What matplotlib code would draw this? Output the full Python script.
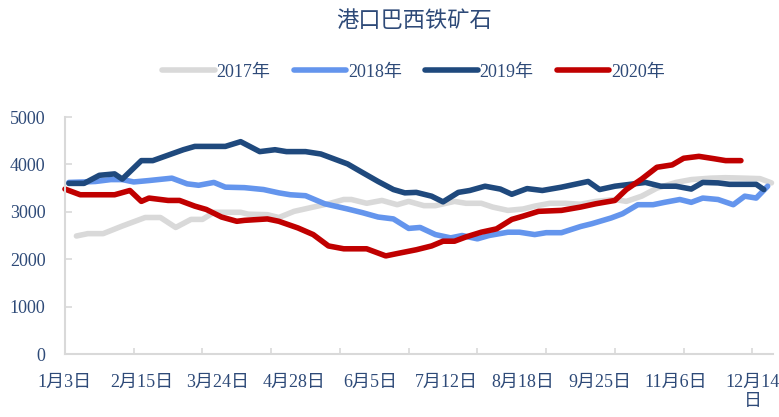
import matplotlib
matplotlib.use('Agg')
import matplotlib.pyplot as plt

plt.rcParams['font.family'] = ['Liberation Serif', 'Noto Sans CJK SC']

# x positions are in the chart's category grid (label every 20, tick every 18)
x_2017 = [3, 6, 10, 15, 21, 25, 29, 33, 36, 39, 46, 48, 53, 56, 60, 65, 69, 73, 75, 79,
          83, 87, 90, 94, 97, 102, 105, 109, 112, 116, 120, 123, 127, 131, 135, 139, 144,
          147, 151, 155, 160, 164, 169, 173, 178, 182, 185]
y_2017 = [2490, 2540, 2540, 2700, 2880, 2880, 2670, 2840, 2840, 2990, 2990, 2950, 2940,
          2880, 3010, 3100, 3170, 3260, 3260, 3180, 3240, 3150, 3220, 3130, 3130, 3220,
          3180, 3180, 3100, 3030, 3060, 3120, 3180, 3180, 3160, 3220, 3260, 3220, 3330,
          3500, 3620, 3680, 3710, 3720, 3710, 3700, 3610]

x_2018 = [1, 5, 8, 12, 15, 18, 22, 28, 32, 35, 39, 42, 47, 52, 56, 59, 63, 68, 74, 78,
          82, 86, 90, 93, 97, 101, 104, 108, 111, 116, 119, 123, 126, 130, 135, 138, 143,
          146, 150, 154, 157, 161, 164, 167, 171, 175, 178, 181, 184]
y_2018 = [3620, 3630, 3640, 3680, 3680, 3630, 3660, 3710, 3590, 3560, 3620, 3520, 3510,
          3470, 3400, 3360, 3340, 3170, 3060, 2980, 2890, 2850, 2650, 2670, 2520, 2450,
          2500, 2430, 2500, 2570, 2570, 2520, 2560, 2560, 2690, 2750, 2870, 2960, 3150,
          3150, 3200, 3260, 3200, 3290, 3260, 3150, 3330, 3290, 3540]

x_2019 = [1, 5, 9, 13, 15, 20, 23, 31, 34, 42, 46, 51, 55, 58, 63, 67, 70, 74, 77, 82,
          86, 89, 92, 96, 99, 103, 106, 110, 114, 117, 121, 125, 130, 137, 140, 144, 149,
          152, 156, 160, 164, 167, 171, 174, 181, 183]
y_2019 = [3600, 3600, 3770, 3800, 3690, 4080, 4080, 4310, 4380, 4380, 4480, 4270, 4310,
          4270, 4270, 4220, 4130, 4010, 3870, 3640, 3470, 3400, 3410, 3330, 3210, 3410,
          3450, 3540, 3480, 3370, 3490, 3450, 3520, 3640, 3470, 3540, 3590, 3620, 3540,
          3540, 3480, 3620, 3610, 3580, 3580, 3470]

x_2020 = [0, 4, 13, 17, 20, 22, 27, 30, 34, 37, 41, 45, 47, 53, 56, 61, 65, 69, 73, 79,
          84, 87, 92, 96, 99, 102, 105, 109, 113, 117, 120, 124, 130, 135, 139, 144, 147,
          151, 155, 159, 162, 166, 170, 173, 177]
y_2020 = [3480, 3360, 3360, 3450, 3220, 3290, 3240, 3240, 3120, 3050, 2890, 2800, 2820,
          2850, 2800, 2660, 2520, 2280, 2220, 2220, 2070, 2120, 2200, 2280, 2380, 2380,
          2470, 2570, 2640, 2840, 2910, 3010, 3030, 3100, 3170, 3240, 3470, 3690, 3940,
          3990, 4130, 4170, 4120, 4080, 4080]

labels = ['1月3日', '2月15日', '3月24日', '4月28日', '6月5日', '7月12日', '8月18日',
          '9月25日', '11月6日', '12月14\n日']
label_step = 20
tick_step = 18
x_max = 185.4

text_color = '#2E4A78'
axis_color = '#D9D9D9'

fig = plt.figure(figsize=(7.79, 4.17), dpi=100)
ax = fig.add_axes([0.0834, 0.151, 0.9089, 0.5684])

ax.plot(x_2017, y_2017, color='#D9D9D9', lw=4, label='2017年', solid_capstyle='round', clip_on=False)
ax.plot(x_2018, y_2018, color='#6495ED', lw=4, label='2018年', solid_capstyle='round', clip_on=False)
ax.plot(x_2019, y_2019, color='#1F497D', lw=4, label='2019年', solid_capstyle='round', clip_on=False)
ax.plot(x_2020, y_2020, color='#C00000', lw=4, label='2020年', solid_capstyle='round', clip_on=False)

ax.set_xlim(0, x_max)
ax.set_ylim(0, 5000)
ax.set_yticks(range(0, 5001, 1000))

ax.xaxis.remove_overlapping_locs = False
ax.set_xticks([tick_step * i for i in range(1, 11)])
ax.set_xticklabels([])
ax.set_xticks([label_step * i for i in range(len(labels))], labels, minor=True)
ax.tick_params(axis='x', which='major', direction='in', length=4, color=axis_color, width=1.2)
ax.tick_params(axis='x', which='minor', length=0, pad=14, labelsize=13, labelcolor=text_color)
ax.tick_params(axis='y', direction='in', length=5, color=axis_color, width=1.2,
               pad=14, labelsize=13, labelcolor=text_color)

for s in ['top', 'right']:
    ax.spines[s].set_visible(False)
for s in ['left', 'bottom']:
    ax.spines[s].set_color(axis_color)
    ax.spines[s].set_linewidth(1.5)

fig.text(0.531, 0.952, '港口巴西铁矿石', ha='center', va='center', fontsize=16, color=text_color,
         family=['Noto Sans CJK SC'])

fig.legend(loc='center', bbox_to_anchor=(0.531, 0.827), ncol=4, frameon=False, fontsize=13,
           handlelength=2.9, handletextpad=0.1, columnspacing=1.3, labelcolor=text_color)

fig.savefig('out.png', dpi=100)
